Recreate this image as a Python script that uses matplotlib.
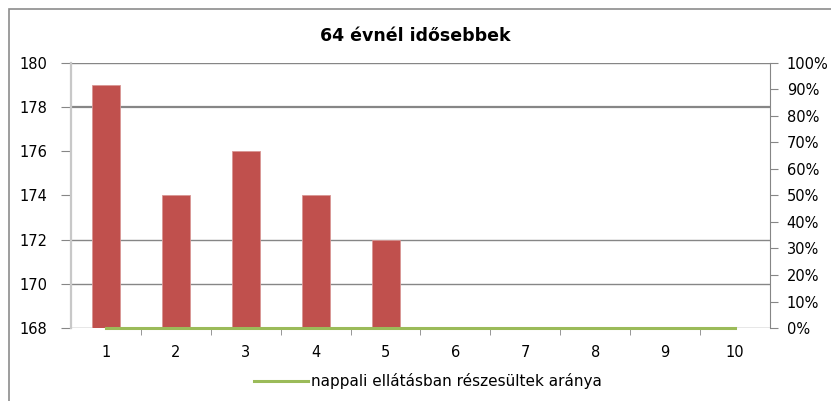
import matplotlib.pyplot as plt
from matplotlib.patches import Rectangle
from matplotlib.ticker import PercentFormatter

plt.rcParams['font.family'] = ['DejaVu Sans']

categories = [1, 2, 3, 4, 5, 6, 7, 8, 9, 10]
bar_values = [179, 174, 176, 174, 172]
ratio_values = [0, 0, 0, 0, 0, 0, 0, 0, 0, 0]
title = '64 évnél idősebbek'
legend_label = 'nappali ellátásban részesültek aránya'

fig = plt.figure(figsize=(8.31, 4.01), dpi=100)
ax = fig.add_axes([0.0854, 0.182, 0.8412, 0.661])

# outer chart border
fig.patches.append(Rectangle((9 / 831, -0.1), 1.2, 1 - 9 / 401 + 0.1, transform=fig.transFigure,
                             fill=False, edgecolor='#8c8c8c', linewidth=1.2))

ax.bar(categories[:len(bar_values)], [v - 168 for v in bar_values], bottom=168,
       width=0.4, color='#C0504D', edgecolor='#d99694', linewidth=0.6, zorder=2)
ax.set_xlim(0.5, 10.5)
ax.set_ylim(168, 180)
ax.set_yticks(range(168, 181, 2))

# horizontal gridlines as seen in the picture
for y, lw in [(180, 1.0), (178, 1.6), (172, 1.0), (170, 1.0)]:
    ax.axhline(y, color='#868686', linewidth=lw, zorder=1)
ax.axhline(168, color='#868686', linewidth=1.0, zorder=1)

ax.set_xticks(categories)
ax.set_xticks([c + 0.5 for c in categories[:-1]], minor=True)
ax.tick_params(axis='x', which='major', length=0, pad=12, labelsize=10.5)
ax.tick_params(axis='x', which='minor', length=5, color='#868686')
ax.tick_params(axis='y', length=7, color='#868686', labelsize=10.5, pad=10)

for s in ['top', 'bottom']:
    ax.spines[s].set_visible(False)
ax.spines['left'].set_color('#c8c8c8')
ax.spines['left'].set_linewidth(1.6)
ax.spines['right'].set_visible(False)

ax2 = ax.twinx()
ax2.plot(categories, ratio_values, color='#9BBB59', linewidth=2.2, zorder=3,
         label=legend_label, clip_on=False)
ax2.set_ylim(0, 1)
ax2.set_yticks([i / 10 for i in range(11)])
ax2.yaxis.set_major_formatter(PercentFormatter(1.0, decimals=0))
ax2.tick_params(axis='y', length=6, color='#868686', labelsize=10.5, pad=6)
for s in ['top', 'bottom', 'left']:
    ax2.spines[s].set_visible(False)
ax2.spines['right'].set_color('#868686')

fig.text(0.5, 0.91, title, ha='center', va='center', fontsize=12.5, fontweight='bold')
fig.legend(loc='center', bbox_to_anchor=(0.515, 0.05), frameon=False, fontsize=11,
           handlelength=3.5, handletextpad=0.2)

fig.savefig('out.png', dpi=100)
